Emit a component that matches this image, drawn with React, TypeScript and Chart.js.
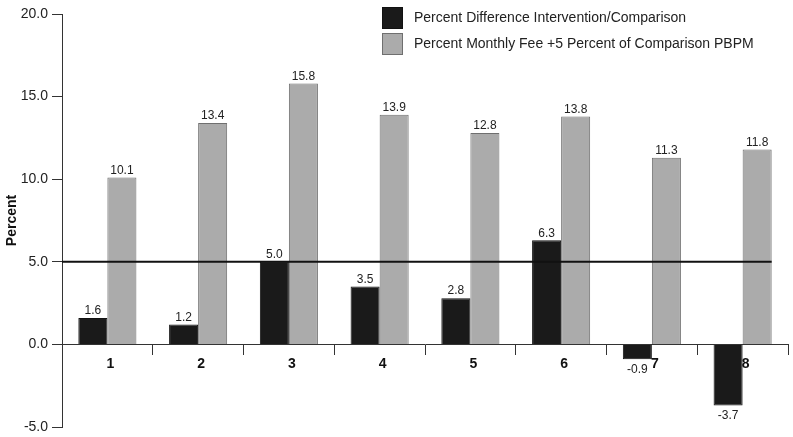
import React, { useEffect, useRef } from "react";
import { Chart, registerables } from "chart.js";

Chart.register(...registerables);

const categories = ["1", "2", "3", "4", "5", "6", "7", "8"];
const diffValues = [1.6, 1.2, 5.0, 3.5, 2.8, 6.3, -0.9, -3.7];
const feeValues = [10.1, 13.4, 15.8, 13.9, 12.8, 13.8, 11.3, 11.8];
const seriesNames = [
  "Percent Difference Intervention/Comparison",
  "Percent Monthly Fee +5 Percent of Comparison PBPM",
];
const referenceValue = 5;
const yTitle = "Percent";

const FONT = "'Liberation Sans', Arial, Helvetica, sans-serif";

const overlayPlugin = {
  id: "overlay",
  afterDatasetsDraw(chart: any) {
    const { ctx, chartArea, scales } = chart;
    const y = scales.y;
    const lastMeta = chart.getDatasetMeta(chart.data.datasets.length - 1);
    const lastBar: any = lastMeta.data[lastMeta.data.length - 1];
    const xEnd = lastBar.x + lastBar.width / 2;
    const yy = y.getPixelForValue(referenceValue);
    ctx.save();
    ctx.strokeStyle = "#111";
    ctx.lineWidth = 2;
    ctx.beginPath();
    ctx.moveTo(chartArea.left, yy);
    ctx.lineTo(xEnd, yy);
    ctx.stroke();

    ctx.font = `12px ${FONT}`;
    ctx.fillStyle = "#222";
    ctx.textAlign = "center";
    chart.data.datasets.forEach((ds: any, di: number) => {
      const meta = chart.getDatasetMeta(di);
      meta.data.forEach((bar: any, i: number) => {
        const v = ds.data[i];
        const label = v.toFixed(1);
        if (v >= 0) {
          ctx.textBaseline = "bottom";
          ctx.fillText(label, bar.x, bar.y - 1);
        } else {
          ctx.textBaseline = "top";
          ctx.fillText(label, bar.x, bar.y + 4);
        }
      });
    });

    const lx = 382;
    const boxes = [
      { y: 7, fill: "#1a1a1a", stroke: "#111" },
      { y: 33, fill: "#ababab", stroke: "#6f6f6f" },
    ];
    ctx.font = `14px ${FONT}`;
    ctx.textAlign = "left";
    ctx.textBaseline = "middle";
    boxes.forEach((b, i) => {
      ctx.fillStyle = b.fill;
      ctx.fillRect(lx, b.y, 21, 22);
      ctx.strokeStyle = b.stroke;
      ctx.lineWidth = 1;
      ctx.strokeRect(lx + 0.5, b.y + 0.5, 20, 21);
      ctx.fillStyle = "#222";
      ctx.fillText(seriesNames[i], 414, b.y + 11);
    });
    ctx.restore();
  },
};

export default function App() {
  const ref = useRef<HTMLCanvasElement>(null);
  useEffect(() => {
    if (!ref.current) return;
    const chart = new Chart(ref.current, {
      type: "bar",
      data: {
        labels: categories,
        datasets: [
          {
            label: seriesNames[0],
            data: diffValues,
            backgroundColor: "#1a1a1a",
            borderColor: "#111",
            borderWidth: 1,
            barPercentage: 1,
            categoryPercentage: 0.64,
          },
          {
            label: seriesNames[1],
            data: feeValues,
            backgroundColor: "#ababab",
            borderColor: "#6f6f6f",
            borderWidth: 1,
            barPercentage: 1,
            categoryPercentage: 0.64,
          },
        ],
      },
      options: {
        animation: false,
        responsive: false,
        maintainAspectRatio: false,
        layout: { padding: { top: 14, bottom: 10, right: 5, left: 0 } },
        plugins: {
          legend: { display: false },
          tooltip: { enabled: false },
        },
        scales: {
          x: {
            position: { y: 0 } as any,
            offset: true,
            z: 1,
            grid: {
              offset: true,
              drawOnChartArea: false,
              drawTicks: true,
              tickLength: 10,
              color: "#333",
            },
            border: { display: true, color: "#333", width: 1 },
            ticks: {
              color: "#111",
              padding: 1,
              labelOffset: 3,
              font: { family: FONT, size: 14, weight: "bold" },
            },
            afterFit: (scale: any) => {
              scale.paddingTop = 0;
              scale.paddingBottom = 0;
              scale.paddingLeft = 0;
              scale.paddingRight = 0;
            },
          },
          y: {
            min: -5,
            max: 20,
            ticks: {
              stepSize: 5,
              color: "#222",
              padding: 4,
              font: { family: FONT, size: 14 },
              callback: (v: any) => Number(v).toFixed(1),
            },
            grid: {
              drawOnChartArea: false,
              drawTicks: true,
              tickLength: 10,
              color: "#333",
            },
            border: { display: true, color: "#333", width: 1 },
            title: {
              display: true,
              text: yTitle,
              color: "#111",
              padding: { top: 4, bottom: 0 },
              font: { family: FONT, size: 14, weight: "bold" },
            },
            afterFit: (scale: any) => {
              scale.width = 62;
              scale.paddingTop = 0;
              scale.paddingBottom = 0;
            },
          },
        },
      },
      plugins: [overlayPlugin],
    });
    return () => chart.destroy();
  }, []);
  return (
    <div style={{ position: "fixed", left: 0, top: 0, width: 793, height: 437, background: "#fff" }}>
      <canvas ref={ref} width={793} height={437} style={{ width: 793, height: 437 }} />
    </div>
  );
}
